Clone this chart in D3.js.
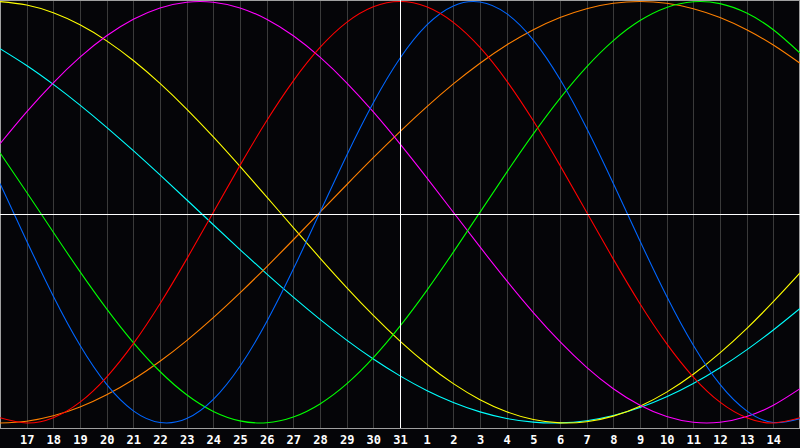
<!DOCTYPE html>
<html><head><meta charset="utf-8">
<script src="https://cdn.jsdelivr.net/npm/d3@7"></script>
<style>
html,body{margin:0;padding:0;background:#050508;overflow:hidden}
svg{display:block}
</style></head>
<body>
<svg id="c" width="800" height="448"></svg>
<script>
// Day labels along the x axis (index 0 .. 30)
const days = [16,17,18,19,20,21,22,23,24,25,26,27,28,29,30,31,1,2,3,4,5,6,7,8,9,10,11,12,13,14,15];
const todayIndex = 15;

// Cycle values (-1..1) read at each day
const physical = [0.1362,-0.1362,-0.3984,-0.6310,-0.8170,-0.9423,-0.9977,-0.9791,-0.8879,-0.7308,-0.5196,-0.2698,0,0.2698,0.5196,0.7308,0.8879,0.9791,0.9977,0.9423,0.8170,0.6310,0.3984,0.1362,-0.1362,-0.3984,-0.6310,-0.8170,-0.9423,-0.9977,-0.9791];
const emotional = [-0.9749,-1,-0.9749,-0.9010,-0.7818,-0.6235,-0.4339,-0.2225,0,0.2225,0.4339,0.6235,0.7818,0.9010,0.9749,1,0.9749,0.9010,0.7818,0.6235,0.4339,0.2225,0,-0.2225,-0.4339,-0.6235,-0.7818,-0.9010,-0.9749,-1,-0.9749];
const intellectual = [0.2817,0.0951,-0.0951,-0.2817,-0.4582,-0.6182,-0.7557,-0.8660,-0.9450,-0.9898,-0.9989,-0.9718,-0.9096,-0.8146,-0.6901,-0.5406,-0.3717,-0.1893,0,0.1893,0.3717,0.5406,0.6901,0.8146,0.9096,0.9718,0.9989,0.9898,0.9450,0.8660,0.7557];
const intuitive = [0.3247,0.4759,0.6142,0.7357,0.8372,0.9158,0.9694,0.9966,0.9966,0.9694,0.9158,0.8372,0.7357,0.6142,0.4759,0.3247,0.1646,0,-0.1646,-0.3247,-0.4759,-0.6142,-0.7357,-0.8372,-0.9158,-0.9694,-0.9966,-0.9966,-0.9694,-0.9158,-0.8372];
const aesthetic = [0.9993,0.9834,0.9465,0.8893,0.8133,0.7199,0.6112,0.4894,0.3572,0.2174,0.0730,-0.0730,-0.2174,-0.3572,-0.4894,-0.6112,-0.7199,-0.8133,-0.8893,-0.9465,-0.9834,-0.9993,-0.9940,-0.9675,-0.9204,-0.8535,-0.7686,-0.6671,-0.5518,-0.4245,-0.2881];
const awareness = [-1,-0.9914,-0.9659,-0.9239,-0.8660,-0.7934,-0.7071,-0.6088,-0.5,-0.3827,-0.2588,-0.1305,0,0.1305,0.2588,0.3827,0.5,0.6088,0.7071,0.7934,0.8660,0.9239,0.9659,0.9914,1,0.9914,0.9659,0.9239,0.8660,0.7934,0.7071];
const spiritual = [0.7765,0.6966,0.6068,0.5085,0.4031,0.2921,0.1769,0.0592,-0.0592,-0.1769,-0.2921,-0.4031,-0.5085,-0.6068,-0.6966,-0.7765,-0.8455,-0.9028,-0.9473,-0.9785,-0.9960,-0.9996,-0.9890,-0.9646,-0.9267,-0.8757,-0.8125,-0.7378,-0.6529,-0.5586,-0.4566];

const series = [
  {name:"spiritual", values:spiritual, color:"#00ffff"},
  {name:"aesthetic", values:aesthetic, color:"#ffff00"},
  {name:"awareness", values:awareness, color:"#ff8000"},
  {name:"intuitive", values:intuitive, color:"#ff00ff"},
  {name:"intellectual", values:intellectual, color:"#00ff00"},
  {name:"physical", values:physical, color:"#0066ff"},
  {name:"emotional", values:emotional, color:"#ff0000"}
];

const W = 800, plotH = 428;
const svg = d3.select("#c");
svg.append("rect").attr("width",W).attr("height",448).attr("fill","#050508");

const x = d3.scaleLinear().domain([0, days.length-1]).range([0, W]);
const y = d3.scaleLinear().domain([-1, 1]).range([423, 1.5]);

// vertical day grid
svg.append("g").selectAll("line").data(d3.range(1, days.length-1)).join("line")
  .attr("x1", d=>Math.round(x(d))+0.5).attr("x2", d=>Math.round(x(d))+0.5)
  .attr("y1", 0).attr("y2", plotH)
  .attr("stroke", "#3a3a3a").attr("stroke-width",1).attr("shape-rendering","crispEdges");

// frame
svg.append("line").attr("x1",0).attr("x2",W).attr("y1",0.5).attr("y2",0.5)
  .attr("stroke","#a0a0a0").attr("shape-rendering","crispEdges");
svg.append("line").attr("x1",0.5).attr("x2",0.5).attr("y1",0).attr("y2",plotH)
  .attr("stroke","#a0a0a0").attr("shape-rendering","crispEdges");
svg.append("line").attr("x1",W-0.5).attr("x2",W-0.5).attr("y1",0).attr("y2",plotH)
  .attr("stroke","#a0a0a0").attr("shape-rendering","crispEdges");
svg.append("line").attr("x1",0).attr("x2",W).attr("y1",plotH+0.5).attr("y2",plotH+0.5)
  .attr("stroke","#a0a0a0").attr("shape-rendering","crispEdges");

// curves
const line = d3.line().x((d,i)=>x(i)).y(d=>y(d)).curve(d3.curveNatural);
svg.append("g").selectAll("path").data(series).join("path")
  .attr("d", d=>line(d.values))
  .attr("fill","none").attr("stroke", d=>d.color).attr("stroke-width",1.1);

// center lines
svg.append("line").attr("x1",0).attr("x2",W).attr("y1",plotH/2+0.5).attr("y2",plotH/2+0.5)
  .attr("stroke","#ffffff").attr("shape-rendering","crispEdges");
svg.append("line").attr("x1",Math.round(x(todayIndex))+0.5).attr("x2",Math.round(x(todayIndex))+0.5)
  .attr("y1",0).attr("y2",plotH)
  .attr("stroke","#ffffff").attr("shape-rendering","crispEdges");

// day labels
svg.append("g").selectAll("text").data(days.map((d,i)=>({d,i})).filter(o=>o.i>0 && o.i<days.length-1)).join("text")
  .attr("x", o=>x(o.i)+0.5).attr("y", 443.5)
  .attr("text-anchor","middle")
  .attr("font-family","'DejaVu Sans Mono', monospace").attr("font-weight","bold").attr("font-size",12)
  .attr("fill","#ffffff")
  .text(o=>o.d);
</script>
</body></html>
